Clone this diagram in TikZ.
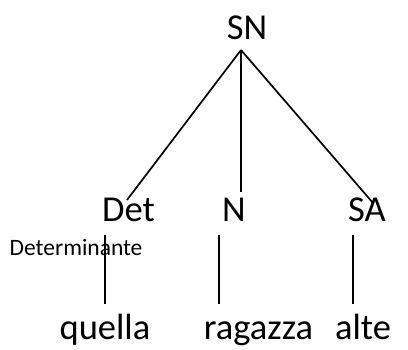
\documentclass[tikz,border=0pt]{standalone}
\usepackage{fontspec}
\setmainfont{Carlito}
\begin{document}
\begin{tikzpicture}[x=1pt,y=1pt,
  lab/.style={inner sep=0pt,anchor=base,font=\fontsize{36.5}{40}\selectfont},
  small/.style={inner sep=0pt,anchor=base west,font=\fontsize{23.5}{26}\selectfont},
  edge/.style={line width=1.7pt}]
\useasboundingbox (0,0) rectangle (408,350);
% text nodes (y = 350 - pixel y)
\node[lab] (sn) at (247,310) {SN};
\node[lab] (det) at (128.5,128) {Det};
\node[lab] (n) at (234,128) {N};
\node[lab] (sa) at (367,128) {SA};
\node[small] (detlong) at (9.5,94) {Determinante};
\node[lab] (quella) at (105,10) {quella};
\node[lab] (ragazza) at (258.5,10) {ragazza};
\node[lab] (alte) at (363,10) {alte};
% connector ends
\coordinate (apex) at (241,300);
\coordinate (detT) at (127,150);
\coordinate (nT) at (241,158);
\coordinate (saT) at (373,147);
\coordinate (d1) at (105,115);
\coordinate (d2) at (105,46);
\coordinate (n1) at (219,115);
\coordinate (n2) at (219,46);
\coordinate (s1) at (353,115);
\coordinate (s2) at (353,46);
\draw[edge] (apex) -- (detT);
\draw[edge] (apex) -- (nT);
\draw[edge] (apex) -- (saT);
\draw[edge] (d1) -- (d2);
\draw[edge] (n1) -- (n2);
\draw[edge] (s1) -- (s2);
\end{tikzpicture}
\end{document}
